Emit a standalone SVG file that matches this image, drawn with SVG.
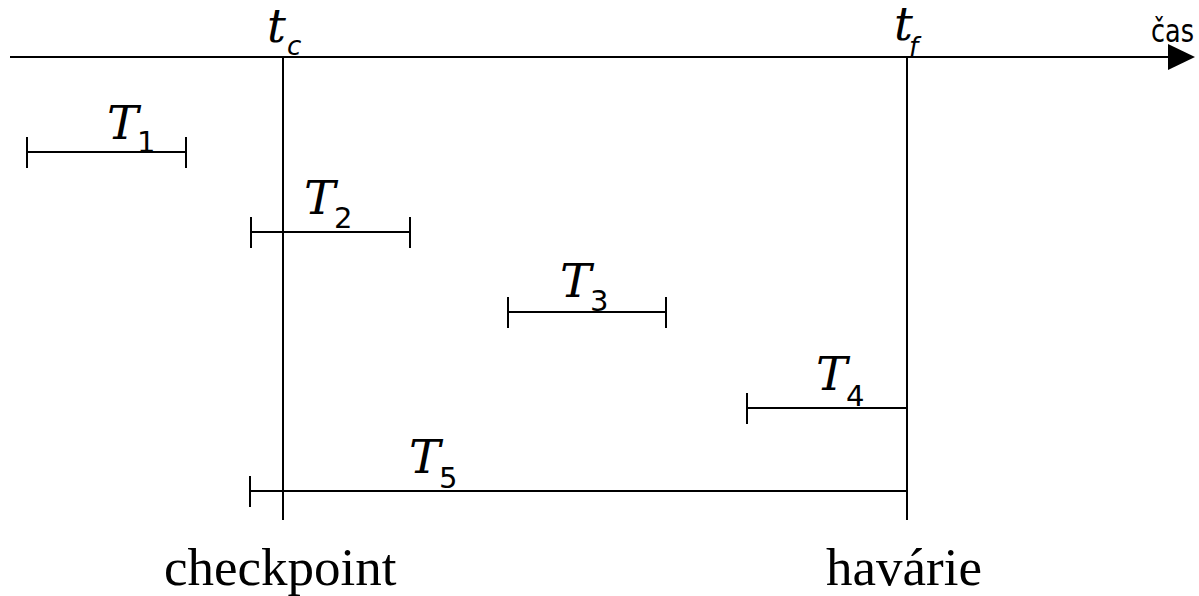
<svg xmlns="http://www.w3.org/2000/svg" width="1199" height="596" viewBox="0 0 1199 596">
<style>
.ln{stroke:#000;stroke-width:2;fill:none}
.T{font-family:"DejaVu Serif",serif;font-style:italic;font-size:47px}
.s{font-family:"DejaVu Sans",sans-serif;font-size:29px}
.si{font-family:"DejaVu Sans",sans-serif;font-style:italic;font-size:26px}
.lab{font-family:"Liberation Serif",serif;font-size:53px}
</style>
<rect width="1199" height="596" fill="#fff"/>
<g id="axis">
<line class="ln" x1="10" y1="57" x2="1170" y2="57"/>
<polygon points="1168,44 1195,57 1168,70" fill="#000"/>
<text x="1151" y="42" textLength="43" lengthAdjust="spacingAndGlyphs" style="font-family:'DejaVu Sans',sans-serif;font-size:32px">čas</text>
</g>
<g id="tc">
<line class="ln" x1="283" y1="57" x2="283" y2="520"/>
<text class="T" x="267" y="42">t</text><text class="si" x="287" y="55">c</text>
<text class="lab" x="164" y="585">checkpoint</text>
</g>
<g id="tf">
<line class="ln" x1="907" y1="57" x2="907" y2="520"/>
<text class="T" x="894" y="40">t</text><text class="si" x="909" y="56">f</text>
<text class="lab" x="826" y="585">havárie</text>
</g>
<g id="T1">
<path class="ln" d="M27,152H186M27,137V168M186,137V168"/>
<text class="T" x="107" y="139">T</text><text class="s" x="137" y="152">1</text>
</g>
<g id="T2">
<path class="ln" d="M251,232H410M251,217V248M410,217V248"/>
<text class="T" x="304" y="214">T</text><text class="s" x="334" y="228">2</text>
</g>
<g id="T3">
<path class="ln" d="M508,312H666M508,297V328M666,297V328"/>
<text class="T" x="560" y="297">T</text><text class="s" x="590" y="311">3</text>
</g>
<g id="T4">
<path class="ln" d="M747,408H907M747,393V424"/>
<text class="T" x="816" y="390">T</text><text class="s" x="846" y="406">4</text>
</g>
<g id="T5">
<path class="ln" d="M250,491H907M250,476V507"/>
<text class="T" x="409" y="473">T</text><text class="s" x="439" y="488">5</text>
</g>
</svg>
